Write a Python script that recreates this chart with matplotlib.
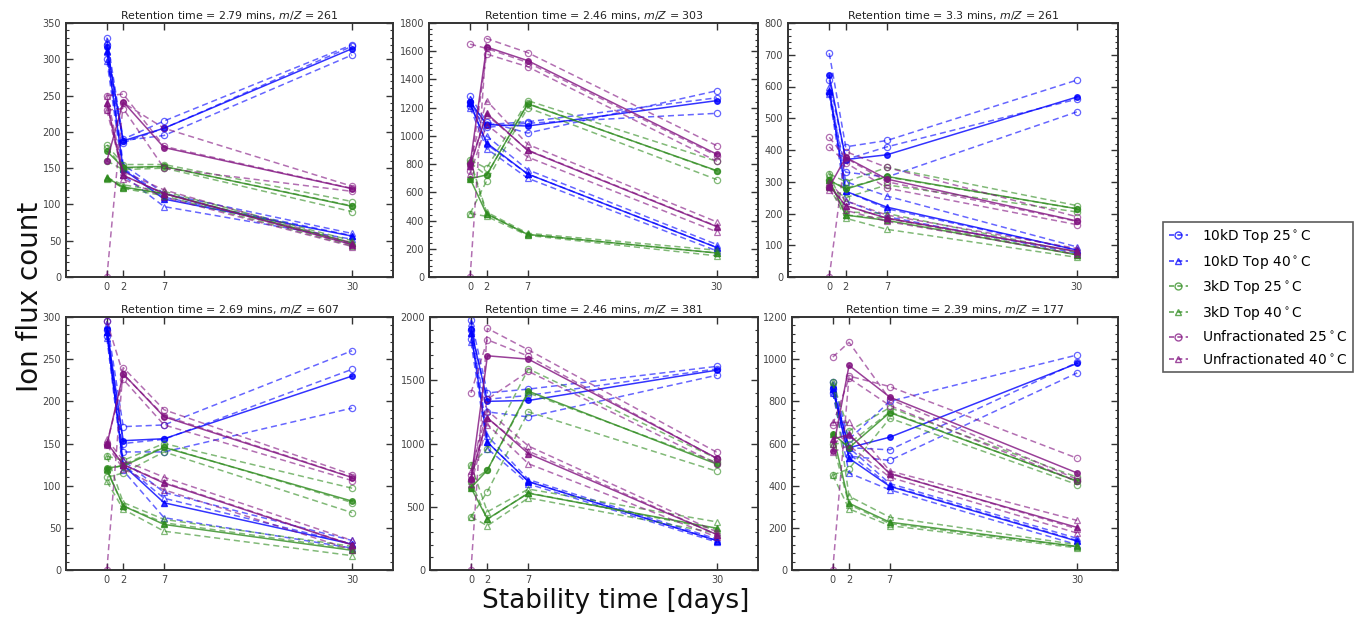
import numpy as np
import matplotlib
matplotlib.use('Agg')
import matplotlib.pyplot as plt
from matplotlib.ticker import AutoMinorLocator, MultipleLocator
from matplotlib.lines import Line2D

# ---------------- data ----------------
days = [0, 2, 7, 30]
day_ticks = [0, 2, 7, 30]
condition_labels = [r'10kD Top 25$^\circ$C', r'10kD Top 40$^\circ$C',
                    r'3kD Top 25$^\circ$C', r'3kD Top 40$^\circ$C',
                    r'Unfractionated 25$^\circ$C', r'Unfractionated 40$^\circ$C']
titles = [r'Retention time = 2.79 mins, $m/Z$ = 261',
          r'Retention time = 2.46 mins, $m/Z$ = 303',
          r'Retention time = 3.3 mins, $m/Z$ = 261',
          r'Retention time = 2.69 mins, $m/Z$ = 607',
          r'Retention time = 2.46 mins, $m/Z$ = 381',
          r'Retention time = 2.39 mins, $m/Z$ = 177']
y_max = [350, 1800, 800, 300, 2000, 1200]
y_step = [50, 200, 100, 50, 500, 200]

# replicate values (3 replicates x days) per panel and condition
A_10kD_25 = [[330, 190, 215, 320], [320, 185, 205, 318], [300, 188, 195, 306]]
A_10kD_40 = [[325, 155, 115, 60], [310, 150, 110, 57], [298, 140, 97, 52]]
A_3kD_25 = [[182, 155, 155, 104], [178, 150, 152, 98], [160, 148, 150, 90]]
A_3kD_40 = [[137, 127, 118, 50], [135, 123, 115, 47], [138, 122, 112, 43]]
A_Unf_25 = [[0, 240, 205, 125], [250, 252, 180, 122], [230, 232, 150, 118]]
A_Unf_40 = [[250, 145, 120, 47], [230, 140, 115, 45], [240, 135, 110, 42]]

B_10kD_25 = [[1280, 1100, 1020, 1320], [1240, 1080, 1100, 1270], [1210, 1060, 1090, 1160]]
B_10kD_40 = [[1260, 1000, 760, 230], [1230, 940, 730, 210], [1200, 910, 700, 185]]
B_3kD_25 = [[830, 770, 1250, 820], [810, 720, 1230, 750], [450, 680, 1200, 690]]
B_3kD_40 = [[830, 460, 310, 190], [810, 450, 300, 170], [450, 430, 295, 150]]
B_Unf_25 = [[0, 1690, 1590, 930], [1650, 1620, 1520, 860], [750, 1580, 1490, 820]]
B_Unf_40 = [[820, 1250, 940, 390], [800, 1150, 900, 360], [730, 1080, 850, 320]]

C_10kD_25 = [[705, 410, 430, 620], [620, 370, 410, 560], [580, 330, 315, 520]]
C_10kD_40 = [[600, 300, 255, 95], [585, 270, 215, 85], [575, 240, 190, 75]]
C_3kD_25 = [[325, 300, 345, 225], [305, 280, 315, 215], [285, 250, 290, 205]]
C_3kD_40 = [[325, 205, 200, 78], [305, 195, 185, 70], [285, 185, 150, 62]]
C_Unf_25 = [[0, 395, 345, 190], [440, 375, 300, 175], [410, 360, 280, 165]]
C_Unf_40 = [[300, 240, 195, 90], [285, 225, 185, 80], [275, 210, 175, 72]]

D_10kD_25 = [[295, 170, 172, 260], [285, 150, 155, 238], [278, 140, 140, 192]]
D_10kD_40 = [[290, 130, 92, 35], [282, 125, 85, 31], [275, 118, 62, 26]]
D_3kD_25 = [[135, 130, 150, 97], [118, 125, 146, 80], [110, 115, 140, 68]]
D_3kD_40 = [[135, 80, 60, 28], [118, 76, 56, 25], [105, 72, 46, 17]]
D_Unf_25 = [[0, 240, 190, 113], [295, 232, 183, 110], [150, 226, 172, 106]]
D_Unf_40 = [[155, 130, 110, 35], [150, 125, 104, 30], [148, 120, 95, 24]]

E_10kD_25 = [[1980, 1400, 1430, 1610], [1900, 1350, 1380, 1590], [1830, 1250, 1210, 1540]]
E_10kD_40 = [[1950, 1060, 715, 245], [1870, 1010, 700, 232], [1800, 960, 680, 220]]
E_3kD_25 = [[830, 960, 1590, 880], [700, 790, 1400, 850], [420, 620, 1250, 780]]
E_3kD_40 = [[830, 460, 640, 380], [700, 400, 610, 320], [420, 350, 570, 290]]
E_Unf_25 = [[0, 1910, 1740, 930], [1400, 1820, 1690, 880], [750, 1350, 1570, 840]]
E_Unf_40 = [[780, 1260, 980, 300], [720, 1200, 940, 280], [680, 1150, 840, 260]]

F_10kD_25 = [[890, 620, 800, 1020], [860, 580, 570, 985], [840, 540, 520, 935]]
F_10kD_40 = [[880, 580, 410, 150], [860, 550, 400, 140], [840, 460, 380, 120]]
F_3kD_25 = [[890, 660, 770, 440], [600, 600, 750, 420], [450, 480, 720, 405]]
F_3kD_40 = [[890, 350, 250, 120], [600, 310, 220, 110], [450, 290, 210, 105]]
F_Unf_25 = [[0, 920, 870, 530], [1010, 1080, 810, 430], [690, 910, 780, 420]]
F_Unf_40 = [[700, 700, 470, 235], [600, 640, 460, 195], [560, 590, 440, 175]]

panels = [
    [A_10kD_25, A_10kD_40, A_3kD_25, A_3kD_40, A_Unf_25, A_Unf_40],
    [B_10kD_25, B_10kD_40, B_3kD_25, B_3kD_40, B_Unf_25, B_Unf_40],
    [C_10kD_25, C_10kD_40, C_3kD_25, C_3kD_40, C_Unf_25, C_Unf_40],
    [D_10kD_25, D_10kD_40, D_3kD_25, D_3kD_40, D_Unf_25, D_Unf_40],
    [E_10kD_25, E_10kD_40, E_3kD_25, E_3kD_40, E_Unf_25, E_Unf_40],
    [F_10kD_25, F_10kD_40, F_3kD_25, F_3kD_40, F_Unf_25, F_Unf_40],
]

# ---------------- style ----------------
colors = ['#0000ff', '#0000ff', '#2e8b1e', '#2e8b1e', '#80107f', '#80107f']
markers = ['o', '^', 'o', '^', 'o', '^']
edge = '#333333'

fig = plt.figure(figsize=(13.63, 6.22), dpi=100)
W, H = 1363.0, 622.0
rects_px = [(66, 23, 393, 277), (429, 23, 758, 277), (788, 23, 1118, 277),
            (66, 317, 393, 570), (430, 317, 758, 570), (792, 317, 1118, 570)]

for i, (reps_list, title) in enumerate(zip(panels, titles)):
    l, t, r, b = rects_px[i]
    ax = fig.add_axes([l / W, 1 - b / H, (r - l) / W, (b - t) / H])
    for c, reps in enumerate(reps_list):
        arr = np.array(reps, dtype=float)
        for rep in arr:
            ax.plot(days, rep, linestyle='--', color=colors[c], alpha=0.6,
                    lw=1.1, marker=markers[c], ms=4.5, mfc='none',
                    mec=colors[c], mew=0.9, dashes=(4, 2.5))
        ax.plot(days, arr.mean(axis=0), linestyle='-', color=colors[c],
                alpha=0.8, lw=1.1, marker=markers[c], ms=4, mfc=colors[c],
                mec=colors[c])
    ax.set_xlim(-5, 35)
    ax.set_ylim(0, y_max[i])
    ax.set_xticks(day_ticks)
    ax.yaxis.set_major_locator(MultipleLocator(y_step[i]))
    ax.yaxis.set_minor_locator(AutoMinorLocator(5))
    ax.tick_params(which='both', direction='in', top=True, right=True,
                   labelsize=7, colors=edge, labelcolor='#444444')
    ax.tick_params(which='major', length=5, width=1)
    ax.tick_params(which='minor', length=2.5, width=0.8)
    for s in ax.spines.values():
        s.set_color(edge)
        s.set_linewidth(1.4)
    ax.set_title(title, fontsize=7.9, color='#222222', pad=3)

fig.text(0.022, 0.523, 'Ion flux count', rotation=90, ha='center',
         va='center', fontsize=20, color='#111111')
fig.text(0.4516, 0.034, 'Stability time [days]', ha='center', va='center',
         fontsize=19, color='#111111')

handles = [Line2D([], [], linestyle='--', color=colors[c], alpha=0.75,
                  marker=markers[c], mfc='none', mec=colors[c], ms=5,
                  lw=1.2, dashes=(3, 2))
           for c in range(6)]
leg = fig.legend(handles, condition_labels, loc='center left',
                 bbox_to_anchor=(1163 / W, 1 - 297 / H), frameon=True,
                 fancybox=False, fontsize=9.9, handlelength=1.4,
                 handletextpad=1.0, borderpad=0.4, labelspacing=0.55,
                 borderaxespad=0, numpoints=1)
leg.get_frame().set_edgecolor(edge)
leg.get_frame().set_linewidth(1.2)

fig.savefig('out.png', dpi=100)
